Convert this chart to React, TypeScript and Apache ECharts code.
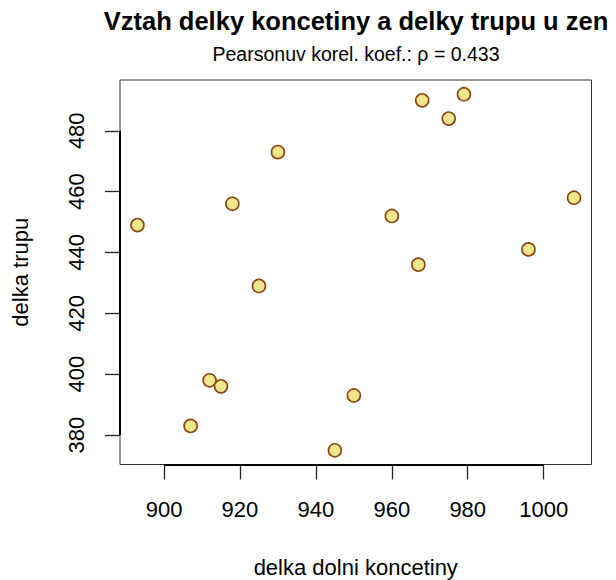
import React, { useEffect, useRef } from "react";
import * as echarts from "echarts";

const TITLE = "Vztah delky koncetiny a delky trupu u zen";
const SUBTITLE = "Pearsonuv korel. koef.: ρ = 0.433";
const X_NAME = "delka dolni koncetiny";
const Y_NAME = "delka trupu";

const legLength = [893, 907, 912, 915, 918, 925, 930, 945, 950, 960, 967, 968, 975, 979, 996, 1008];
const trunkLength = [449, 383, 398, 396, 456, 429, 473, 375, 393, 452, 436, 490, 484, 492, 441, 458];

const xTicks = [900, 920, 940, 960, 980, 1000];
const yTicks = [380, 400, 420, 440, 460, 480];

const FONT = "'Liberation Sans', Arial, Helvetica, sans-serif";

export default function App() {
  const ref = useRef<HTMLDivElement>(null);

  useEffect(() => {
    if (!ref.current) return;
    const chart = echarts.init(ref.current, null, { renderer: "svg" });

    const xMinD = Math.min(...legLength);
    const xMaxD = Math.max(...legLength);
    const yMinD = Math.min(...trunkLength);
    const yMaxD = Math.max(...trunkLength);
    const xPad = (xMaxD - xMinD) * 0.04;
    const yPad = (yMaxD - yMinD) * 0.04;
    const XMIN = xMinD - xPad;
    const XMAX = xMaxD + xPad;
    const YMIN = yMinD - yPad;
    const YMAX = yMaxD + yPad;

    const data = legLength.map((x, i) => [x, trunkLength[i]]);

    chart.setOption({
      animation: false,
      backgroundColor: "#ffffff",
      textStyle: { fontFamily: FONT },
      title: [
        {
          text: TITLE,
          left: 356,
          top: 8,
          padding: 0,
          textAlign: "center",
          textStyle: { fontFamily: FONT, fontSize: 25.5, fontWeight: "bold", color: "#000", lineHeight: 26 },
        },
        {
          text: SUBTITLE,
          left: 356,
          top: 44,
          padding: 0,
          textAlign: "center",
          textStyle: { fontFamily: FONT, fontSize: 19.5, fontWeight: "normal", color: "#000", lineHeight: 20 },
        },
      ],
      grid: {
        left: 120,
        top: 80,
        right: 24.5,
        bottom: 115.5,
        outerBoundsMode: "none",
        containLabel: false,
        show: true,
        borderColor: "#333",
        borderWidth: 1,
        backgroundColor: "transparent",
      },
      xAxis: {
        type: "value",
        min: XMIN,
        max: XMAX,
        name: X_NAME,
        nameLocation: "middle",
        nameGap: 92,
        nameTextStyle: { fontFamily: FONT, fontSize: 22, color: "#000", lineHeight: 22 },
        splitLine: { show: false },
        axisLine: { show: false },
        axisTick: {
          show: true,
          length: 15,
          customValues: xTicks,
          lineStyle: { color: "#222", width: 1.3 },
        },
        axisLabel: {
          show: true,
          customValues: xTicks,
          formatter: (v: number) => String(v),
          margin: 34,
          fontFamily: FONT,
          fontSize: 22,
          lineHeight: 22,
          color: "#000",
        },
      },
      yAxis: {
        type: "value",
        min: YMIN,
        max: YMAX,
        name: Y_NAME,
        nameLocation: "middle",
        nameGap: 89,
        nameRotate: 90,
        nameTextStyle: { fontFamily: FONT, fontSize: 22, color: "#000", lineHeight: 22 },
        splitLine: { show: false },
        axisLine: { show: false },
        axisTick: {
          show: true,
          length: 15,
          customValues: yTicks,
          lineStyle: { color: "#222", width: 1.3 },
        },
        axisLabel: {
          show: true,
          customValues: yTicks,
          formatter: (v: number) => String(v),
          rotate: 90,
          margin: 33,
          fontFamily: FONT,
          fontSize: 22,
          lineHeight: 22,
          color: "#000",
        },
      },
      series: [
        {
          type: "scatter",
          data,
          clip: false,
          symbol: "circle",
          symbolSize: 13,
          itemStyle: {
            color: "#F0E68C",
            borderColor: "#8B4513",
            borderWidth: 1.6,
            opacity: 1,
          },
          markLine: {
            silent: true,
            symbol: ["none", "none"],
            label: { show: false },
            lineStyle: { color: "#000", width: 2, type: "solid" },
            data: [
              [{ coord: [xTicks[0], YMIN] }, { coord: [xTicks[xTicks.length - 1], YMIN] }],
              [{ coord: [XMIN, yTicks[0]] }, { coord: [XMIN, yTicks[yTicks.length - 1]] }],
            ],
          },
        },
      ],
    });

    return () => {
      chart.dispose();
    };
  }, []);

  return (
    <div
      ref={ref}
      style={{ position: "absolute", left: 0, top: 0, width: 616, height: 580, overflow: "hidden" }}
    />
  );
}
